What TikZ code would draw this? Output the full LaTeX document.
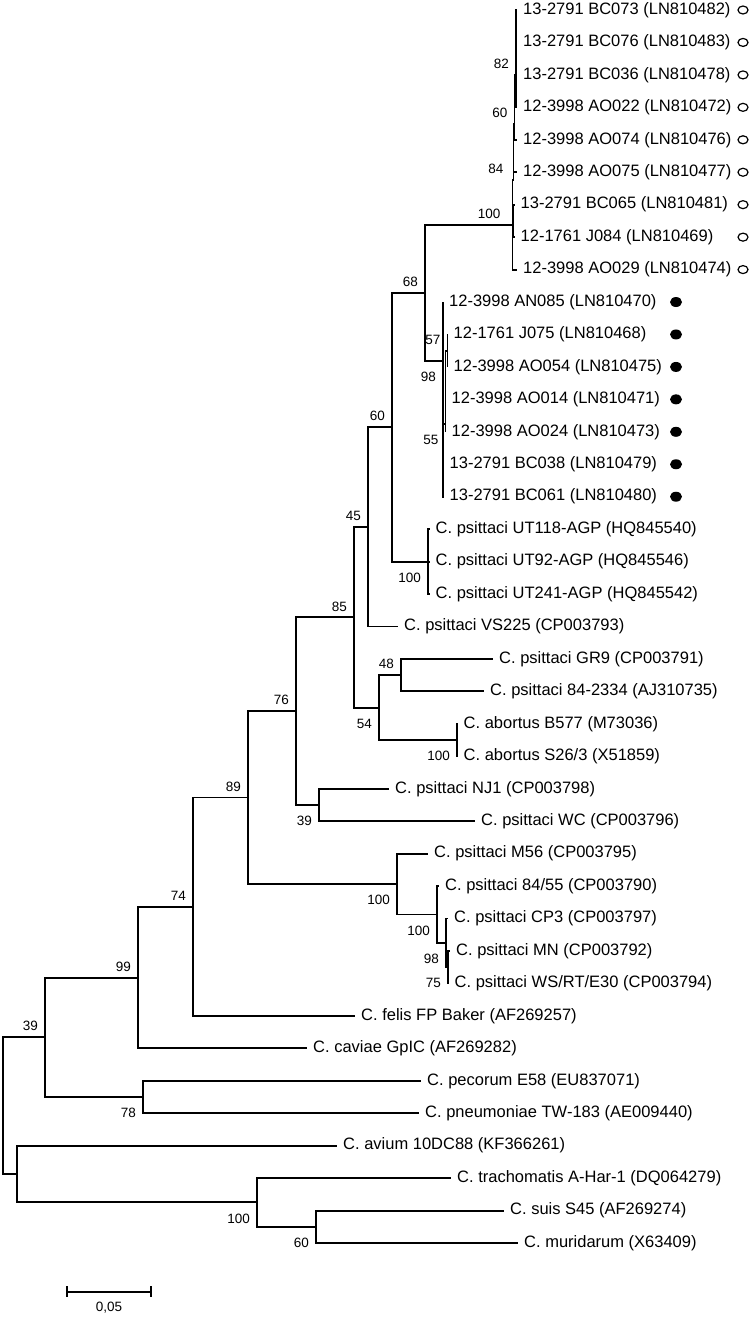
\documentclass[tikz,border=0pt]{standalone}
\usepackage{fontspec}
\setmainfont{Liberation Sans}
\usetikzlibrary{shapes.geometric}
\newcommand{\taxfont}{\fontsize{16.5}{18}\selectfont}
\newcommand{\bsfont}{\fontsize{13.5}{15}\selectfont}
\tikzset{
  branch/.style={line width=1.9pt, color=black},
  taxon/.style={anchor=west, inner xsep=6pt, inner ysep=0pt, font=\taxfont},
  bsup/.style={anchor=south east, inner sep=0pt, xshift=-7pt, yshift=6pt, font=\bsfont},
  bsdown/.style={anchor=north east, inner sep=0pt, xshift=-7pt, yshift=-11pt, font=\bsfont},
  opendot/.style={ellipse, draw, line width=1.2pt, minimum width=10pt,
    minimum height=8pt, inner sep=0pt},
  fulldot/.style={ellipse, fill, minimum width=12pt, minimum height=10pt, inner sep=0pt}
}

\begin{document}
\begin{tikzpicture}[x=1pt, y=-32.447pt]
  \useasboundingbox (0,0.6918) rectangle (752,41.281);

  % Internal nodes
  \coordinate (root) at (3,34.77);
  \coordinate (n39) at (45,32.66);
  \coordinate (n99) at (138,30.82);
  \coordinate (n74) at (193,28.64);
  \coordinate (n89) at (248,25.27);
  \coordinate (n76) at (296,22.61);
  \coordinate (n85) at (354,19.72);
  \coordinate (n45) at (368,16.93);
  \coordinate (n60) at (392,13.86);
  \coordinate (n68) at (425,9.72);
  \coordinate (nbc) at (512.5,7.63);
  \coordinate (nbj) at (513.5,7.5);
  \coordinate (n84) at (513.5,6.24);
  \coordinate (n60b) at (514.5,4.5);
  \coordinate (n82) at (516,3);
  \coordinate (n98) at (443,11.82);
  \coordinate (n55) at (445.5,13.76);
  \coordinate (n57) at (447.5,11.5);
  \coordinate (nut) at (428,18);
  \coordinate (n54) at (379,22.5);
  \coordinate (n48) at (401,21.5);
  \coordinate (nab) at (457,23.5);
  \coordinate (n39b) at (319,25.5);
  \coordinate (nm56) at (397,27.94);
  \coordinate (n8455) at (437,28.875);
  \coordinate (n98b) at (446,29.75);
  \coordinate (n75) at (448,30.5);
  \coordinate (n78) at (143,34.5);
  \coordinate (nav) at (17,36.875);
  \coordinate (ntr) at (257,37.75);
  \coordinate (n60c) at (316,38.5);

  % Taxa of the first 12-3998/13-2791 cluster
  \node[taxon] (bc073) at (517,1) {13-2791 BC073 (LN810482)};
  \node[taxon] (bc076) at (517,2) {13-2791 BC076 (LN810483)};
  \node[taxon] (bc036) at (517,3) {13-2791 BC036 (LN810478)};
  \node[taxon] (ao022) at (517,4) {12-3998 AO022 (LN810472)};
  \node[taxon] (ao074) at (517,5) {12-3998 AO074 (LN810476)};
  \node[taxon] (ao075) at (517,6) {12-3998 AO075 (LN810477)};
  \node[taxon] (bc065) at (514.5,7) {13-2791 BC065 (LN810481)};
  \node[taxon] (j084) at (514.5,8) {12-1761 J084 (LN810469)};
  \node[taxon] (ao029) at (517,9) {12-3998 AO029 (LN810474)};

  % Taxa of the second cluster
  \node[taxon] (an085) at (443,10) {12-3998 AN085 (LN810470)};
  \node[taxon] (j075) at (447.5,11) {12-1761 J075 (LN810468)};
  \node[taxon] (ao054) at (447.5,12) {12-3998 AO054 (LN810475)};
  \node[taxon] (ao014) at (445.5,13) {12-3998 AO014 (LN810471)};
  \node[taxon] (ao024) at (445.5,14) {12-3998 AO024 (LN810473)};
  \node[taxon] (bc038) at (443.5,15) {13-2791 BC038 (LN810479)};
  \node[taxon] (bc061) at (443.5,16) {13-2791 BC061 (LN810480)};

  % Reference strains
  \node[taxon] (ut118) at (429.5,17) {C. psittaci UT118-AGP (HQ845540)};
  \node[taxon] (ut92) at (429.5,18) {C. psittaci UT92-AGP (HQ845546)};
  \node[taxon] (ut241) at (429.5,19) {C. psittaci UT241-AGP (HQ845542)};
  \node[taxon] (vs225) at (398,20) {C. psittaci VS225 (CP003793)};
  \node[taxon] (gr9) at (493,21) {C. psittaci GR9 (CP003791)};
  \node[taxon] (p2334) at (484,22) {C. psittaci 84-2334 (AJ310735)};
  \node[taxon] (b577) at (457.5,23) {C. abortus B577 (M73036)};
  \node[taxon] (s263) at (457.5,24) {C. abortus S26/3 (X51859)};
  \node[taxon] (nj1) at (389,25) {C. psittaci NJ1 (CP003798)};
  \node[taxon] (wc) at (475,26) {C. psittaci WC (CP003796)};
  \node[taxon] (m56) at (428,27) {C. psittaci M56 (CP003795)};
  \node[taxon] (p8455) at (439,28) {C. psittaci 84/55 (CP003790)};
  \node[taxon] (cp3) at (448,29) {C. psittaci CP3 (CP003797)};
  \node[taxon] (mn) at (450,30) {C. psittaci MN (CP003792)};
  \node[taxon] (ws) at (448.5,31) {C. psittaci WS/RT/E30 (CP003794)};
  \node[taxon] (felis) at (355,32) {C. felis FP Baker (AF269257)};
  \node[taxon] (caviae) at (307,33) {C. caviae GpIC (AF269282)};
  \node[taxon] (pecorum) at (421,34) {C. pecorum E58 (EU837071)};
  \node[taxon] (pneum) at (419,35) {C. pneumoniae TW-183 (AE009440)};
  \node[taxon] (avium) at (337,36) {C. avium 10DC88 (KF366261)};
  \node[taxon] (trach) at (451,37) {C. trachomatis A-Har-1 (DQ064279)};
  \node[taxon] (suis) at (504,38) {C. suis S45 (AF269274)};
  \node[taxon] (murid) at (518,39) {C. muridarum (X63409)};

  % Markers
  \foreach \i in {1,...,9}
    \node[opendot] (open\i) at (743,\i) {};
  \foreach \i in {10,...,16}
    \node[fulldot] (full\i) at (676,\i) {};

  % Branches
  \draw[branch] (root) |- (n39);
  \draw[branch] (root) |- (nav);
  \draw[branch] (n39) |- (n99);
  \draw[branch] (n39) |- (n78);
  \draw[branch] (n99) |- (n74);
  \draw[branch] (n99) |- (caviae);
  \draw[branch] (n74) |- (n89);
  \draw[branch] (n74) |- (felis);
  \draw[branch] (n89) |- (n76);
  \draw[branch] (n89) |- (nm56);
  \draw[branch] (n76) |- (n85);
  \draw[branch] (n76) |- (n39b);
  \draw[branch] (n85) |- (n45);
  \draw[branch] (n85) |- (n54);
  \draw[branch] (n45) |- (n60);
  \draw[branch] (n45) |- (vs225);
  \draw[branch] (n60) |- (n68);
  \draw[branch] (n60) |- (nut);
  \draw[branch] (n68) |- (nbc);
  \draw[branch] (n68) |- (n98);

  % First cluster
  \draw[branch] (nbc) |- (n84);
  \draw[branch] (nbc) |- (nbj);
  \draw[branch] (nbc) |- (ao029);
  \draw[branch] (nbj) |- (bc065);
  \draw[branch] (nbj) |- (j084);
  \draw[branch] (n84) |- (n60b);
  \draw[branch] (n84) |- (ao075);
  \draw[branch] (n60b) |- (n82);
  \draw[branch] (n60b) |- (ao074);
  \foreach \t in {bc073,bc076,bc036,ao022}
    \draw[branch] (n82) |- (\t);

  % Second cluster
  \draw[branch] (n98) |- (an085);
  \draw[branch] (n98) |- (n55);
  \draw[branch] (n98) |- (bc038);
  \draw[branch] (n98) |- (bc061);
  \draw[branch] (n55) |- (n57);
  \draw[branch] (n55) |- (ao014);
  \draw[branch] (n55) |- (ao024);
  \draw[branch] (n57) |- (j075);
  \draw[branch] (n57) |- (ao054);

  % Remaining clades
  \draw[branch] (nut) |- (ut118);
  \draw[branch] (nut) |- (ut92);
  \draw[branch] (nut) |- (ut241);
  \draw[branch] (n54) |- (n48);
  \draw[branch] (n54) |- (nab);
  \draw[branch] (n48) |- (gr9);
  \draw[branch] (n48) |- (p2334);
  \draw[branch] (nab) |- (b577);
  \draw[branch] (nab) |- (s263);
  \draw[branch] (n39b) |- (nj1);
  \draw[branch] (n39b) |- (wc);
  \draw[branch] (nm56) |- (m56);
  \draw[branch] (nm56) |- (n8455);
  \draw[branch] (n8455) |- (p8455);
  \draw[branch] (n8455) |- (n98b);
  \draw[branch] (n98b) |- (cp3);
  \draw[branch] (n98b) |- (n75);
  \draw[branch] (n75) |- (mn);
  \draw[branch] (n75) |- (ws);
  \draw[branch] (n78) |- (pecorum);
  \draw[branch] (n78) |- (pneum);
  \draw[branch] (nav) |- (avium);
  \draw[branch] (nav) |- (ntr);
  \draw[branch] (ntr) |- (trach);
  \draw[branch] (ntr) |- (n60c);
  \draw[branch] (n60c) |- (suis);
  \draw[branch] (n60c) |- (murid);

  % Bootstrap values
  \node[bsup] (b39) at (n39) {39};
  \node[bsup] (b99) at (n99) {99};
  \node[bsup] (b74) at (n74) {74};
  \node[bsup] (b89) at (n89) {89};
  \node[bsup] (b76) at (n76) {76};
  \node[bsup] (b85) at (n85) {85};
  \node[bsup] (b45) at (n45) {45};
  \node[bsup] (b60) at (n60) {60};
  \node[bsup] (b68) at (n68) {68};
  \node[bsup, xshift=-5pt] (b100bc) at (nbc) {100};
  \node[bsup, xshift=-3pt] (b84) at (n84) {84};
  \node[bsup] (b60b) at (n60b) {60};
  \node[bsup] (b82) at (n82) {82};
  \node[bsup] (b57) at (n57) {57};
  \node[bsup] (b48) at (n48) {48};
  \node[bsdown] (b98) at (n98) {98};
  \node[bsdown] (b55) at (n55) {55};
  \node[bsdown] (b100ut) at (nut) {100};
  \node[bsdown] (b54) at (n54) {54};
  \node[bsdown] (b100ab) at (nab) {100};
  \node[bsdown] (b39b) at (n39b) {39};
  \node[bsdown] (b100m) at (nm56) {100};
  \node[bsdown] (b100p) at (n8455) {100};
  \node[bsdown] (b98b) at (n98b) {98};
  \node[bsdown] (b75) at (n75) {75};
  \node[bsdown] (b78) at (n78) {78};
  \node[bsdown] (b100tr) at (ntr) {100};
  \node[bsdown] (b60c) at (n60c) {60};

  % Scale bar
  \coordinate (sbl) at (67,40.51);
  \coordinate (sbr) at (151,40.51);
  \draw[line width=1.6pt] (sbl) -- (sbr);
  \draw[line width=1.6pt] ([yshift=5.5pt]sbl) -- ([yshift=-5.5pt]sbl);
  \draw[line width=1.6pt] ([yshift=5.5pt]sbr) -- ([yshift=-5.5pt]sbr);
  \node[font=\bsfont, inner sep=0pt] (sbtext) at (109,41.0) {0,05};
\end{tikzpicture}
\end{document}
